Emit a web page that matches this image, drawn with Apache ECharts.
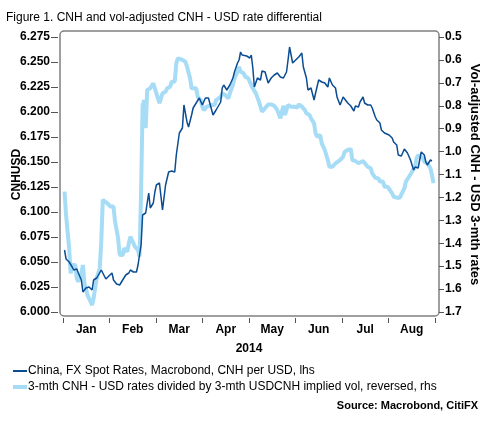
<!DOCTYPE html>
<html><head><meta charset="utf-8">
<script src="https://cdn.jsdelivr.net/npm/echarts@6/dist/echarts.min.js"></script>
<style>html,body{margin:0;padding:0;background:#fff}#c{width:487px;height:421px}</style>
</head><body><div id="c"></div>
<script>
const months = ['Jan','Feb','Mar','Apr','May','Jun','Jul','Aug'];
const cnhDates = ['01-02','01-03','01-05','01-07','01-08','01-10','01-11','01-13','01-14','01-16','01-18','01-20','01-21','01-23','01-24','01-26','01-27','01-29','01-31',
'02-02','02-03','02-05','02-07','02-09','02-11','02-13','02-14','02-16','02-18','02-19','02-21','02-22','02-24','02-26','02-27',
'03-01','03-02','03-03','03-05','03-07','03-09','03-11','03-13','03-15','03-16','03-18','03-20','03-21','03-23','03-24','03-26','03-27','03-29','03-30','03-31',
'04-02','04-03','04-04','04-06','04-07','04-09','04-11','04-14','04-15','04-16','04-18','04-20','04-22','04-23','04-25','04-26','04-27','04-28','04-29',
'05-01','05-03','05-04','05-05','05-06','05-08','05-10','05-11','05-13','05-15','05-17','05-19','05-21','05-23','05-25','05-27','05-28','05-29','05-30','05-31',
'06-02','06-03','06-04','06-06','06-07','06-09','06-10','06-12','06-14','06-15','06-17','06-19','06-21','06-23','06-24','06-26','06-28','06-29',
'07-01','07-03','07-04','07-06','07-08','07-10','07-11','07-13','07-14','07-16','07-17','07-19','07-21','07-22','07-24','07-25','07-27','07-28','07-30','07-31',
'08-02','08-04','08-05','08-07','08-08','08-10','08-11','08-12','08-14','08-16','08-17','08-18','08-19','08-21','08-22','08-23','08-25','08-26','08-27','08-29','08-30'];
const cnhValues = [6.062,6.053,6.050,6.045,6.042,6.043,6.039,6.032,6.020,6.024,6.025,6.022,6.032,6.034,6.036,6.042,6.039,6.033,6.036,
6.039,6.032,6.028,6.027,6.032,6.037,6.039,6.042,6.040,6.040,6.047,6.067,6.097,6.099,6.119,6.104,
6.109,6.120,6.127,6.129,6.102,6.127,6.140,6.141,6.140,6.157,6.179,6.184,6.207,6.190,6.185,6.197,6.204,6.209,6.207,6.214,
6.207,6.205,6.214,6.214,6.212,6.197,6.202,6.210,6.224,6.227,6.222,6.227,6.234,6.240,6.249,6.252,6.260,6.257,6.259,
6.256,6.254,6.257,6.244,6.225,6.234,6.232,6.241,6.240,6.229,6.234,6.237,6.239,6.235,6.234,6.240,6.252,6.265,6.257,6.249,
6.252,6.250,6.255,6.259,6.245,6.234,6.222,6.224,6.212,6.219,6.232,6.230,6.229,6.225,6.234,6.227,6.224,6.215,
6.207,6.215,6.214,6.209,6.206,6.201,6.206,6.205,6.210,6.215,6.209,6.207,6.207,6.204,6.195,6.192,6.189,6.182,6.179,6.178,
6.177,6.174,6.170,6.167,6.157,6.156,6.155,6.163,6.159,6.152,6.147,6.142,6.145,6.144,6.152,6.160,6.157,6.150,6.147,6.152,6.151];
const volDates = ['01-02','01-03','01-05','01-06','01-07','01-09','01-10','01-11','01-13','01-14','01-15','01-17','01-19','01-20','01-21','01-23','01-25','01-26','01-27','01-28','01-30',
'02-01','02-03','02-04','02-06','02-07','02-09','02-10','02-12','02-13','02-14','02-16','02-17','02-19','02-20','02-21','02-22','02-23','02-24','02-25','02-27',
'03-01','03-02','03-04','03-05','03-07','03-09','03-10','03-12','03-13','03-15','03-16','03-17','03-20','03-22','03-23','03-25','03-26','03-27','03-29','03-30',
'04-01','04-02','04-03','04-05','04-06','04-08','04-10','04-11','04-14','04-15','04-17','04-19','04-20','04-22','04-23','04-25','04-26','04-27','04-29','04-30',
'05-02','05-03','05-05','05-07','05-09','05-11','05-13','05-15','05-17','05-19','05-21','05-23','05-24','05-25','05-26','05-28','05-29','05-30',
'06-01','06-03','06-04','06-06','06-08','06-09','06-11','06-12','06-14','06-15','06-16','06-18','06-19','06-21','06-22','06-23','06-24','06-26','06-28','06-29',
'07-01','07-03','07-04','07-06','07-08','07-09','07-11','07-13','07-14','07-16','07-17','07-19','07-21','07-22','07-24','07-26','07-27','07-29','07-30',
'08-01','08-02','08-04','08-05','08-07','08-09','08-10','08-12','08-13','08-15','08-16','08-17','08-19','08-20','08-21','08-22','08-24','08-25','08-27','08-29','08-30','08-31'];
const volValues = [1.175,1.277,1.422,1.531,1.495,1.495,1.553,1.568,1.531,1.495,1.575,1.626,1.655,1.670,1.640,1.553,1.509,1.393,1.211,1.219,1.226,
1.240,1.240,1.306,1.378,1.451,1.451,1.422,1.437,1.400,1.371,1.400,1.415,1.430,1.459,1.175,0.800,0.775,0.898,0.731,0.724,
0.702,0.709,0.768,0.789,0.746,0.739,0.724,0.717,0.695,0.695,0.615,0.593,0.600,0.608,0.630,0.680,0.724,0.731,0.724,0.761,
0.775,0.804,0.819,0.804,0.797,0.797,0.797,0.775,0.761,0.746,0.753,0.768,0.746,0.709,0.680,0.651,0.630,0.651,0.658,0.673,
0.680,0.695,0.724,0.746,0.782,0.826,0.811,0.794,0.794,0.800,0.819,0.855,0.826,0.800,0.840,0.797,0.789,0.804,
0.804,0.808,0.794,0.804,0.819,0.833,0.840,0.855,0.877,0.920,0.935,0.928,0.964,0.993,1.015,1.037,1.066,1.066,1.051,1.044,
1.037,1.022,1.001,0.993,0.989,1.037,1.041,1.051,1.044,1.041,1.041,1.066,1.073,1.095,1.114,1.117,1.131,1.131,1.153,
1.153,1.160,1.182,1.197,1.201,1.201,1.197,1.160,1.131,1.110,1.102,1.088,1.066,1.029,1.015,1.015,1.029,1.044,1.051,1.073,1.102,1.138];

const FONT = 'Liberation Sans, Arial, sans-serif';
const cnhName = 'China, FX Spot Rates, Macrobond, CNH per USD, lhs';
const volName = '3-mth CNH - USD rates divided by 3-mth USDCNH implied vol, reversed, rhs';
const DARK = '#0B4C92', LIGHT = '#A6DCF6';

const chart = echarts.init(document.getElementById('c'), null, {renderer:'canvas'});
const lbl = {color:'#000', fontFamily:FONT, fontWeight:'bold', fontSize:12};
const legText = {fontFamily:FONT, fontSize:12, color:'#000', padding:[0,0,0,-4]};
chart.setOption({
  animation:false,
  backgroundColor:'#fff',
  title:{text:'Figure 1. CNH and vol-adjusted CNH - USD rate differential', left:1, top:7,
    textStyle:{fontFamily:FONT, fontSize:12, fontWeight:'normal', color:'#000'}},
  grid:{left:63, right:52, top:37, bottom:109, containLabel:false, outerBoundsMode:'none'},
  legend:[
    {left:8, top:360, itemWidth:14, itemHeight:2, icon:'rect', textStyle:legText, data:[cnhName]},
    {left:8, top:376, itemWidth:14, itemHeight:4, icon:'rect', textStyle:legText, data:[volName]}
  ],
  graphic:[
    {type:'rect', shape:{x:60, y:31, width:379, height:285, r:4}, z:-1,
      style:{fill:'none', stroke:'#808080', lineWidth:1.5}},
    {type:'text', right:9, top:400, style:{text:'Source: Macrobond, CitiFX', fontFamily:FONT, fontWeight:'bold', fontSize:11, fill:'#000'}}
  ],
  xAxis:[
    {type:'time', min:'2014-01-01', max:'2014-09-01', show:false},
    {type:'category', data:months, position:'bottom', offset:6, boundaryGap:true,
      axisLine:{show:false}, axisTick:{show:true, length:5, lineStyle:{color:'#555'}},
      axisLabel:Object.assign({margin:6}, lbl), splitLine:{show:false},
      name:'2014', nameLocation:'middle', nameGap:25, nameMoveOverlap:false, nameTextStyle:lbl}
  ],
  yAxis:[
    {type:'value', min:6.0, max:6.275, interval:0.025, position:'left', offset:5,
      axisLine:{show:false}, axisTick:{show:true, length:7, lineStyle:{color:'#555'}},
      splitLine:{show:false}, axisLabel:Object.assign({margin:8, formatter:v=>v.toFixed(3)}, lbl),
      name:'CNHUSD', nameLocation:'middle', nameGap:35, nameMoveOverlap:false, nameTextStyle:lbl},
    {type:'value', min:0.5, max:1.7, interval:0.1, inverse:true, position:'right', offset:4,
      axisLine:{show:false}, axisTick:{show:true, length:5, lineStyle:{color:'#555'}},
      splitLine:{show:false}, axisLabel:Object.assign({margin:6, formatter:v=>v.toFixed(1)}, lbl),
      name:'Vol-adjusted CNH - USD 3-mth rates', nameLocation:'middle', nameGap:29, nameRotate:-90, nameMoveOverlap:false,
      nameTextStyle:Object.assign({}, lbl, {fontSize:13})}
  ],
  series:[
    {name:volName, type:'line', xAxisIndex:0, yAxisIndex:1, showSymbol:false, symbol:'none', z:2,
      lineStyle:{color:LIGHT, width:4}, itemStyle:{color:LIGHT},
      data:volDates.map((d,i)=>['2014-'+d, volValues[i]])},
    {name:cnhName, type:'line', xAxisIndex:0, yAxisIndex:0, showSymbol:false, symbol:'none', z:3,
      lineStyle:{color:DARK, width:1.5}, itemStyle:{color:DARK},
      data:cnhDates.map((d,i)=>['2014-'+d, cnhValues[i]])}
  ]
});
</script></body></html>
